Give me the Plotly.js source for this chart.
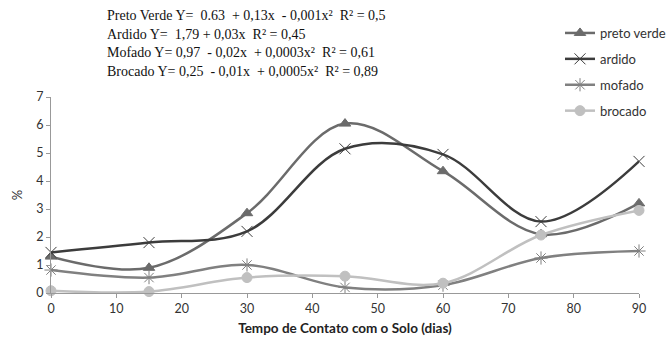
<!DOCTYPE html>
<html><head><meta charset="utf-8">
<script src="https://cdn.plot.ly/plotly-3.0.1.min.js"></script>
<style>body{margin:0;background:#fff}#c{width:668px;height:347px}</style>
</head><body><div id="c"></div>
<script>
const dias = [0, 15, 30, 45, 60, 75, 90];
const pretoVerde = [1.3, 0.9, 2.85, 6.05, 4.35, 2.1, 3.2];
const ardido = [1.45, 1.8, 2.2, 5.15, 4.95, 2.55, 4.7];
const mofado = [0.82, 0.55, 1.0, 0.2, 0.28, 1.25, 1.5];
const brocado = [0.08, 0.05, 0.55, 0.6, 0.35, 2.07, 2.95];
const seriesNames = ['preto verde', 'ardido', 'mofado', 'brocado'];
const equations = [
  'Preto Verde Y=  0.63  + 0,13x  - 0,001x²  R² = 0,5',
  'Ardido Y=  1,79 + 0,03x  R² = 0,45',
  'Mofado Y= 0,97  - 0,02x  + 0,0003x²  R² = 0,61',
  'Brocado Y= 0,25  - 0,01x  + 0,0005x²  R² = 0,89'
];
const xTicks = [0, 10, 20, 30, 40, 50, 60, 70, 80, 90];
const yTicks = [0, 1, 2, 3, 4, 5, 6, 7];

const colors = ['#6b6b6b', '#3c3c3c', '#808080', '#c0c0c0'];
const symbols = ['triangle-up', 'x-thin-open', 'asterisk-open', 'circle'];
const sizes = [10, 11, 11, 10];
const data = [pretoVerde, ardido, mofado, brocado].map((ys, i) => ({
  x: dias, y: ys, name: seriesNames[i], type: 'scatter', mode: 'lines+markers',
  line: {shape: 'spline', smoothing: 1, color: colors[i], width: 2.5},
  marker: {symbol: symbols[i], size: sizes[i], color: colors[i], line: {color: colors[i], width: 1}},
  cliponaxis: false, legendgroup: 'g' + i
}));

const plotTop = 97, plotBot = 293, plotH = plotBot - plotTop;
const annYs = [15, 34, 53, 72];
const annotations = equations.map((t, i) => ({
  text: t, xref: 'paper', yref: 'paper', x: (105 - 51) / 588, xanchor: 'left',
  y: (plotBot - annYs[i]) / plotH, yanchor: 'middle', showarrow: false,
  font: {family: 'Liberation Serif', size: 14, color: '#111'}
}));

const layout = {
  width: 668, height: 347,
  margin: {l: 51, r: 29, t: plotTop, b: 347 - plotBot, autoexpand: false},
  paper_bgcolor: '#fff', plot_bgcolor: '#fff',
  showlegend: true,
  legend: {x: (560 - 51) / 588, xanchor: 'left', y: (plotBot - 18) / plotH, yanchor: 'top',
    font: {family: 'Lato', size: 13, color: '#333'}, traceorder: 'grouped', tracegroupgap: 6,
    bgcolor: 'rgba(0,0,0,0)', itemwidth: 30},
  xaxis: {range: [0, 90], tickvals: xTicks, showgrid: false, zeroline: false, automargin: false,
    showline: true, linecolor: '#999', linewidth: 1, ticks: 'outside', ticklen: 4, tickcolor: '#999',
    tickfont: {family: 'Lato', size: 12.5, color: '#333'},
    title: {text: 'Tempo de Contato com o Solo (dias)', font: {family: 'Lato', size: 13.5, color: '#222', weight: 'bold'}, standoff: 8}},
  yaxis: {range: [0, 7], tickvals: yTicks, showgrid: false, zeroline: false, automargin: false,
    showline: true, linecolor: '#999', linewidth: 1, ticks: 'outside', ticklen: 4, tickcolor: '#999',
    tickfont: {family: 'Lato', size: 12.5, color: '#333'},
    title: {text: '%', font: {family: 'Lato', size: 13, color: '#333'}, standoff: 10}},
  annotations: annotations
};
Plotly.newPlot('c', data, layout, {displayModeBar: false, staticPlot: true});
</script></body></html>
